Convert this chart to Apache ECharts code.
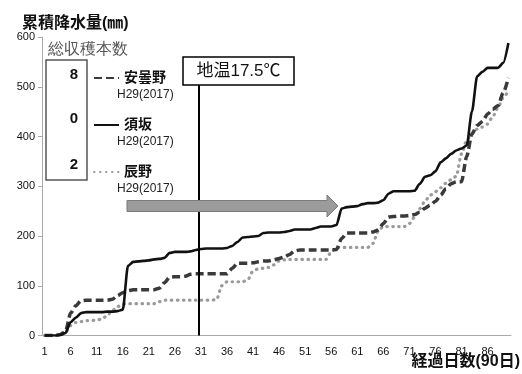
<!DOCTYPE html>
<html>
<head>
<meta charset="utf-8">
<script src="https://cdn.jsdelivr.net/npm/echarts@6/dist/echarts.min.js"></script>
<style>
  html, body { margin: 0; padding: 0; background: #fff; }
  #chart { width: 522px; height: 374px; }
</style>
</head>
<body>
<div id="chart"></div>
<script>
// Days after start (1..90)
const days = Array.from({ length: 90 }, (_, i) => String(i + 1));

// Cumulative precipitation (mm), one value per day
const azumino = [0,0,0,2,8,45,60,70,71,71, 71,71,71,73,80,86,90,92,92,92,
  92,92,95,106,117,118,118,119,123,124, 124,124,124,124,124,124,135,145,145,145,
  146,148,150,150,152,155,158,163,170,172, 172,172,172,172,172,172,173,195,206,206,
  206,206,206,208,212,225,238,239,240,240, 241,243,248,256,262,270,282,295,305,309,
  309,360,405,422,430,445,455,462,488,518];
const suzaka = [0,0,0,1,5,27,36,45,47,47, 47,47,48,48,49,52,140,148,149,150,
  151,153,154,156,166,168,168,168,169,172, 174,175,175,175,175,176,180,188,197,198,
  199,200,206,207,207,207,208,210,213,213, 213,213,216,219,219,219,222,255,258,259,
  260,264,266,266,267,272,285,290,290,290, 290,291,305,319,322,330,348,356,365,372,
  376,382,450,521,530,538,538,538,548,588];
const tatsuno = [0,0,0,0,6,20,26,28,30,30, 31,33,40,50,58,63,64,64,64,64,
  64,64,68,71,71,71,71,71,71,71, 71,71,71,72,100,108,108,108,108,112,
  130,134,135,137,142,150,152,153,153,153, 153,153,153,153,153,168,177,177,177,177,
  177,177,177,185,210,219,219,219,219,219, 225,238,255,270,282,289,297,306,313,320,
  365,392,405,415,419,425,440,458,478,492];

const seriesNames = ['安曇野', '須坂', '辰野'];
const yearLabel = 'H29(2017)';
const harvestCounts = ['8', '0', '2'];
const soilTempDay = 30;          // boundary between day 30 and 31
const soilTempLabel = '地温17.5℃';

const FONT = '"Liberation Sans","Noto Sans CJK JP",sans-serif';

const chart = echarts.init(document.getElementById('chart'));

chart.setOption({
  animation: false,
  backgroundColor: '#fff',
  textStyle: { fontFamily: FONT },
  title: {
    text: '累積降水量(㎜)',
    left: 17, top: 11,
    textStyle: { fontSize: 16, fontWeight: 'bold', color: '#111', fontFamily: FONT }
  },
  grid: { left: 42, right: 11, top: 37, bottom: 38.5, containLabel: false },
  legend: {
    data: seriesNames,
    orient: 'vertical',
    left: 88, top: 66,
    itemWidth: 25, itemHeight: 14, itemGap: 33,
    itemStyle: { opacity: 0 },
    textStyle: { fontSize: 14, fontWeight: 'bold', color: '#111', fontFamily: FONT }
  },
  xAxis: [{
    type: 'category',
    data: days,
    boundaryGap: true,
    axisLine: { lineStyle: { color: '#aaa', width: 1 } },
    axisTick: { interval: 9, length: 5, lineStyle: { color: '#aaa' } },
    axisLabel: { interval: 4, fontSize: 11, color: '#111', margin: 11, fontFamily: FONT }
  }, {
    type: 'value', min: 0, max: 90, show: false
  }],
  yAxis: {
    type: 'value',
    min: 0, max: 600, interval: 100,
    splitLine: { show: false },
    axisLine: { show: true, lineStyle: { color: '#aaa' } },
    axisTick: { show: true, length: 4, lineStyle: { color: '#aaa' } },
    axisLabel: { fontSize: 11, color: '#111', margin: 7, fontFamily: FONT }
  },
  series: [
    {
      name: '安曇野', type: 'line', data: azumino,
      symbol: 'none', smooth: 0.25, smoothMonotone: 'x',
      lineStyle: { color: '#3a3a3a', width: 3.5, type: [8, 4] },
      itemStyle: { color: '#3a3a3a', opacity: 0 }, z: 3
    },
    {
      name: '須坂', type: 'line', data: suzaka,
      symbol: 'none', smooth: 0.25, smoothMonotone: 'x',
      lineStyle: { color: '#111', width: 2.6 },
      itemStyle: { color: '#111', opacity: 0 }, z: 4
    },
    {
      name: '辰野', type: 'line', data: tatsuno,
      symbol: 'none', smooth: 0.25, smoothMonotone: 'x',
      lineStyle: { color: '#9a9a9a', width: 3.2, type: [0.5, 5.5], cap: 'round' },
      itemStyle: { color: '#9a9a9a', opacity: 0 }, z: 2
    },
    {
      type: 'line', xAxisIndex: 1, data: [], silent: true,
      markLine: {
        silent: true, symbol: 'none',
        label: { show: false },
        lineStyle: { color: '#000', width: 2, type: 'solid' },
        data: [[{ coord: [soilTempDay, 0] }, { coord: [soilTempDay, 504] }]]
      }
    }
  ],
  graphic: [
    // harvest count box
    { type: 'text', left: 48, top: 42,
      style: { text: '総収穫本数', fontSize: 16, fill: '#555', font: '16px ' + FONT } },
    { type: 'rect', shape: { x: 46, y: 60, width: 41, height: 120 },
      style: { fill: '#fff', stroke: '#555', lineWidth: 1.5 } },
    { type: 'text', x: 78, y: 75,
      style: { text: harvestCounts[0], font: 'bold 15px ' + FONT, fill: '#111', align: 'right', verticalAlign: 'middle' } },
    { type: 'text', x: 78, y: 119,
      style: { text: harvestCounts[1], font: 'bold 15px ' + FONT, fill: '#111', align: 'right', verticalAlign: 'middle' } },
    { type: 'text', x: 78, y: 165,
      style: { text: harvestCounts[2], font: 'bold 15px ' + FONT, fill: '#111', align: 'right', verticalAlign: 'middle' } },
    // year under each legend entry
    { type: 'text', x: 117, y: 95,
      style: { text: yearLabel, font: '12px ' + FONT, fill: '#222', verticalAlign: 'middle' } },
    { type: 'text', x: 117, y: 142,
      style: { text: yearLabel, font: '12px ' + FONT, fill: '#222', verticalAlign: 'middle' } },
    { type: 'text', x: 117, y: 189,
      style: { text: yearLabel, font: '12px ' + FONT, fill: '#222', verticalAlign: 'middle' } },
    // soil temperature box
    { type: 'rect', shape: { x: 183, y: 57, width: 111, height: 28 },
      style: { fill: '#fff', stroke: '#000', lineWidth: 1.5 }, z: 10 },
    { type: 'text', x: 238.5, y: 71.5, z: 11,
      style: { text: soilTempLabel, font: '17px ' + FONT, fill: '#111', align: 'center', verticalAlign: 'middle' } },
    // gray arrow
    { type: 'polygon', z: 10,
      shape: { points: [[127, 200.5], [327, 200.5], [327, 195], [338, 206], [327, 217], [327, 211.5], [127, 211.5]] },
      style: { fill: '#9b9b9b', stroke: '#7a7a7a', lineWidth: 1 } },
    // x axis name
    { type: 'text', right: 2, top: 354,
      style: { text: '経過日数(90日)', font: 'bold 16px ' + FONT, fill: '#111' } }
  ]
});
</script>
</body>
</html>
